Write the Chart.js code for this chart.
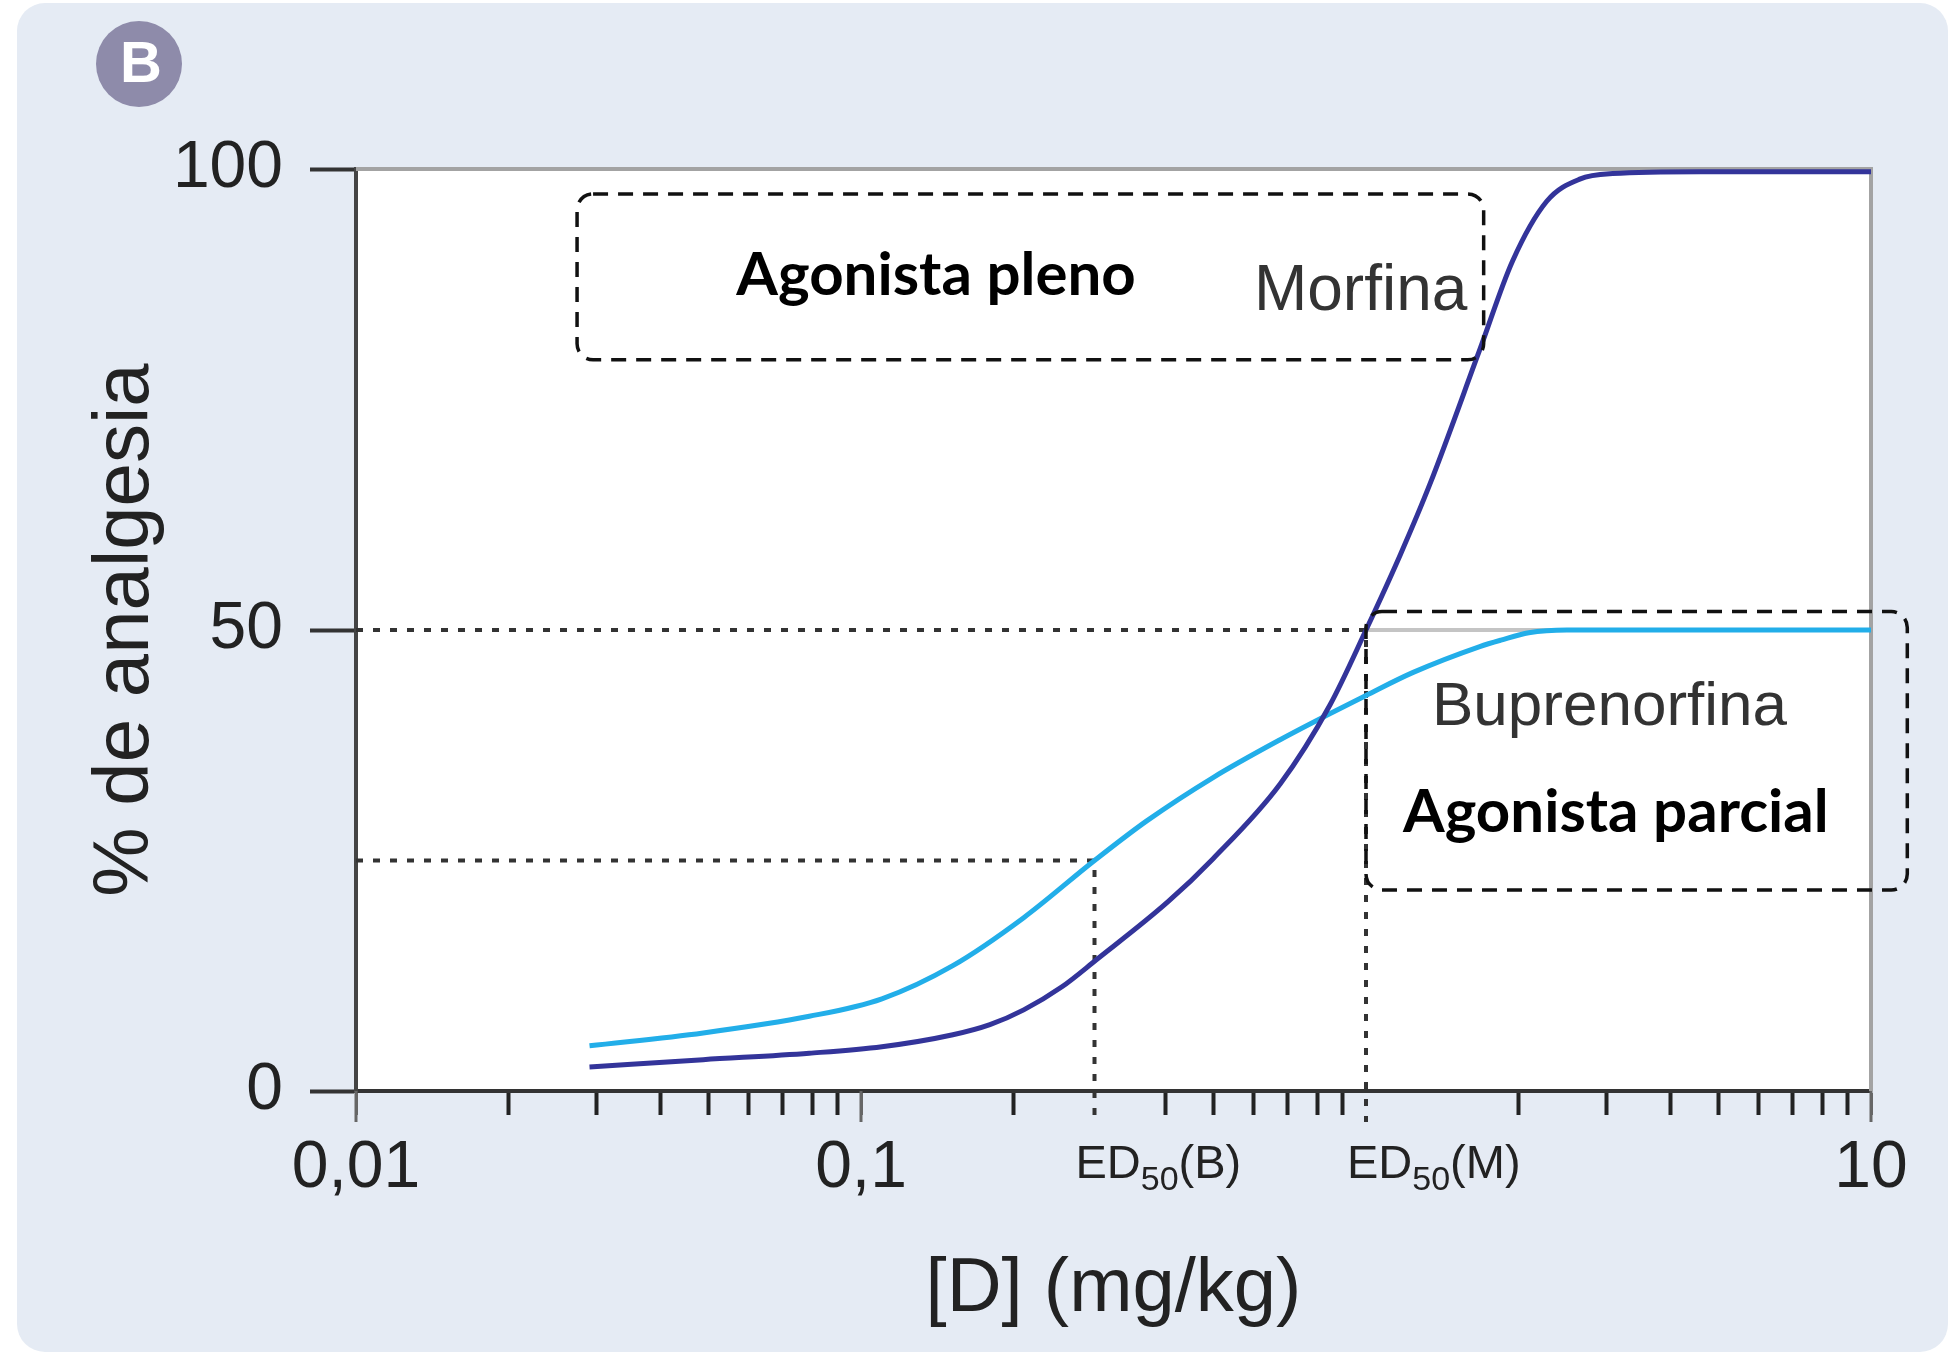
<!DOCTYPE html>
<html>
<head>
<meta charset="utf-8">
<title>% de analgesia: Morfina vs Buprenorfina</title>
<script src="https://cdn.jsdelivr.net/npm/chart.js@4.4.1/dist/chart.umd.min.js"></script>
<style>
  html, body { margin: 0; padding: 0; background: #ffffff; }
  canvas { display: block; }
</style>
</head>
<body>
<canvas id="curvas" width="1948" height="1355"></canvas>
<script>
// dosis (mg/kg) y % de analgesia
const dosisMorfina = [0.029, 0.0487, 0.079, 0.11, 0.152, 0.18, 0.21, 0.25, 0.292, 0.405, 0.498, 0.676, 0.849, 1.0, 1.17, 1.34, 1.68, 1.95, 2.28, 2.65, 3.08, 4.6, 10];
const morfina = [2.6, 3.4, 4.1, 4.8, 6.1, 7.2, 8.8, 11.3, 14.2, 20.5, 25.2, 33.3, 41.9, 50, 58.2, 65.9, 80.4, 90.0, 96.5, 98.9, 99.5, 99.7, 99.7];

const dosisBupre = [0.029, 0.0487, 0.079, 0.11, 0.152, 0.21, 0.29, 0.368, 0.498, 0.676, 0.84, 1.0, 1.24, 1.68, 1.85, 2.1, 2.5, 10];
const buprenorfina = [4.9, 6.3, 8.1, 10.0, 13.6, 18.8, 25, 29.3, 34.0, 38.1, 40.8, 42.9, 45.4, 48.2, 48.9, 49.7, 50, 50];

// ED50 de cada farmaco y su nivel de respuesta
const ed50B = 0.29, nivelB = 25;
const ed50M = 1.0, nivelM = 50;

// marcas del eje x
const xTicks = [0.01, 0.02, 0.03, 0.04, 0.05, 0.06, 0.07, 0.08, 0.09, 0.1,
  0.2, 0.4, 0.5, 0.6, 0.7, 0.8, 0.9, 2, 3, 4, 5, 6, 7, 8, 9, 10];
const xMajor = [0.01, 0.1, 10];
const xMajorLabels = ['0,01', '0,1', '10'];

const SANS = '"Liberation Sans", Arial, sans-serif';
const BOLD = 'Lato, "Noto Sans", sans-serif';

// recuadros punteados (en unidades de los ejes)
const cajas = [
  { x0: 0.0274, x1: 1.71, y0: 79.3, y1: 97.3 },
  { x0: 1.0, x1: 11.8, y0: 21.8, y1: 52.0 }
];

const esMayor = v => xMajor.some(m => Math.abs(m - v) < 1e-9);

const figura = {
  id: 'figura',
  beforeDraw(chart) {
    const { ctx, chartArea: a } = chart;
    ctx.save();
    ctx.fillStyle = '#ffffff';
    ctx.fillRect(0, 0, chart.width, chart.height);
    ctx.fillStyle = '#e5ebf4';
    ctx.beginPath();
    ctx.roundRect(17, 3, chart.width - 17, chart.height - 6, 28);
    ctx.fill();
    ctx.fillStyle = '#ffffff';
    ctx.fillRect(a.left, a.top, a.right - a.left, a.bottom - a.top);
    // distintivo "B"
    ctx.fillStyle = '#8e8baa';
    ctx.beginPath();
    ctx.arc(139, 64, 43, 0, Math.PI * 2);
    ctx.fill();
    ctx.fillStyle = '#ffffff';
    ctx.font = 'bold 58px ' + SANS;
    ctx.textAlign = 'center';
    ctx.textBaseline = 'middle';
    ctx.fillText('B', 141, 66);
    ctx.restore();
  },
  beforeDatasetsDraw(chart) {
    const { ctx, chartArea: a, scales: { x, y } } = chart;
    ctx.save();
    // marco gris arriba y a la derecha
    ctx.strokeStyle = '#a3a3a3';
    ctx.lineWidth = 4;
    ctx.beginPath();
    ctx.moveTo(a.left, a.top);
    ctx.lineTo(a.right, a.top);
    ctx.lineTo(a.right, a.bottom);
    ctx.stroke();
    // linea de 50 % tras el ED50 de morfina
    ctx.strokeStyle = '#c4c4c4';
    ctx.beginPath();
    ctx.moveTo(x.getPixelForValue(ed50M), y.getPixelForValue(nivelM));
    ctx.lineTo(a.right, y.getPixelForValue(nivelM));
    ctx.stroke();
    // lineas de puntos de los ED50
    ctx.strokeStyle = '#333333';
    ctx.lineWidth = 4;
    ctx.setLineDash([7, 10]);
    [[ed50M, nivelM], [ed50B, nivelB]].forEach(([d, n]) => {
      const px = x.getPixelForValue(d);
      const py = y.getPixelForValue(n);
      ctx.beginPath();
      ctx.moveTo(a.left, py);
      ctx.lineTo(px, py);
      ctx.lineTo(px, a.bottom + 31);
      ctx.stroke();
    });
    ctx.restore();
  },
  afterDatasetsDraw(chart) {
    const { ctx, chartArea: a, scales: { x, y } } = chart;
    ctx.save();
    // marcas mayores mas largas
    ctx.strokeStyle = '#666666';
    ctx.lineWidth = 3;
    xMajor.forEach(v => {
      const px = x.getPixelForValue(v);
      ctx.beginPath();
      ctx.moveTo(px, a.bottom);
      ctx.lineTo(px, a.bottom + 31);
      ctx.stroke();
    });
    // recuadros
    ctx.strokeStyle = '#111111';
    ctx.lineWidth = 3.5;
    ctx.setLineDash([15, 10]);
    cajas.forEach(c => {
      const l = x.getPixelForValue(c.x0), r = x.getPixelForValue(c.x1);
      const t = y.getPixelForValue(c.y1), b = y.getPixelForValue(c.y0);
      ctx.beginPath();
      ctx.roundRect(l, t, r - l, b - t, 16);
      ctx.stroke();
    });
    ctx.setLineDash([]);
    // textos
    ctx.textBaseline = 'alphabetic';
    ctx.fillStyle = '#000000';
    ctx.font = 'bold 60px ' + BOLD;
    ctx.textAlign = 'center';
    ctx.fillText('Agonista pleno', x.getPixelForValue(0.1408), y.getPixelForValue(86.3));
    ctx.textAlign = 'left';
    ctx.fillText('Agonista parcial', x.getPixelForValue(1.184), y.getPixelForValue(28.1));
    ctx.fillStyle = '#333333';
    ctx.font = '64px ' + SANS;
    ctx.fillText('Morfina', x.getPixelForValue(0.6), y.getPixelForValue(84.7));
    ctx.font = '62px ' + SANS;
    ctx.fillText('Buprenorfina', x.getPixelForValue(1.351), y.getPixelForValue(39.7));
    // etiquetas ED50 con subindice
    ctx.fillStyle = '#222222';
    [[ed50B, '(B)'], [ed50M, '(M)']].forEach(([d, s]) => {
      let cx = x.getPixelForValue(d) - 19;
      const base = a.bottom + 87;
      ctx.font = '47px ' + SANS;
      ctx.fillText('ED', cx, base);
      cx += ctx.measureText('ED').width;
      ctx.font = '34px ' + SANS;
      ctx.fillText('50', cx, base + 12);
      cx += ctx.measureText('50').width;
      ctx.font = '47px ' + SANS;
      ctx.fillText(s, cx, base);
    });
    ctx.restore();
  }
};

new Chart(document.getElementById('curvas'), {
  type: 'line',
  data: {
    datasets: [
      {
        label: 'Morfina',
        data: dosisMorfina.map((d, i) => ({ x: d, y: morfina[i] })),
        borderColor: '#33349a',
        borderWidth: 5,
        pointRadius: 0,
        cubicInterpolationMode: 'monotone',
        clip: false
      },
      {
        label: 'Buprenorfina',
        data: dosisBupre.map((d, i) => ({ x: d, y: buprenorfina[i] })),
        borderColor: '#22aee9',
        borderWidth: 5,
        pointRadius: 0,
        cubicInterpolationMode: 'monotone',
        clip: false
      }
    ]
  },
  options: {
    responsive: false,
    animation: false,
    devicePixelRatio: 1,
    layout: { padding: { left: 0, top: 169, right: 77, bottom: 0 } },
    plugins: { legend: { display: false }, tooltip: { enabled: false } },
    scales: {
      x: {
        type: 'logarithmic',
        min: 0.01,
        max: 10,
        afterBuildTicks: s => { s.ticks = xTicks.map(v => ({ value: v })); },
        afterFit: s => { s.height = 264; },
        border: { display: true, color: '#333333', width: 4 },
        grid: {
          drawOnChartArea: false,
          drawTicks: true,
          tickLength: 24,
          tickColor: c => esMayor(c.tick.value) ? '#666666' : '#222222',
          tickWidth: c => esMayor(c.tick.value) ? 3 : 4
        },
        ticks: {
          autoSkip: false,
          maxRotation: 0,
          padding: 14,
          color: '#222222',
          font: { family: SANS, size: 66 },
          callback: v => {
            const i = xMajor.findIndex(m => Math.abs(m - v) < 1e-9);
            return i >= 0 ? xMajorLabels[i] : '';
          }
        },
        title: {
          display: true,
          text: '[D] (mg/kg)',
          color: '#222222',
          font: { family: SANS, size: 76 },
          padding: { top: 0, bottom: 19 }
        }
      },
      y: {
        min: 0,
        max: 100,
        afterFit: s => { s.width = 356; },
        border: { display: true, color: '#444444', width: 4 },
        grid: {
          drawOnChartArea: false,
          drawTicks: true,
          tickLength: 46,
          tickColor: '#333333',
          tickWidth: 4
        },
        ticks: {
          stepSize: 50,
          padding: 27,
          color: '#222222',
          font: { family: SANS, size: 66 }
        },
        title: {
          display: true,
          text: '% de analgesia',
          color: '#222222',
          font: { family: SANS, size: 78 },
          padding: { top: 80, bottom: 0 }
        }
      }
    }
  },
  plugins: [figura]
});
</script>
</body>
</html>
